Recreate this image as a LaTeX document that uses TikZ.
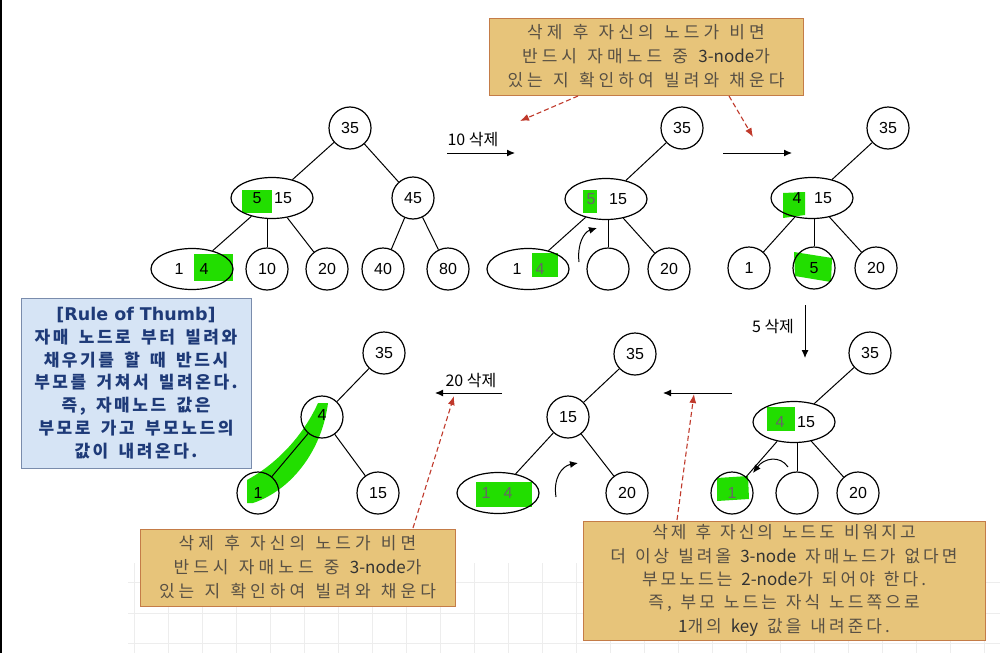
\documentclass[tikz,border=0pt]{standalone}
\usepackage{fontspec}
\setmainfont{Liberation Sans}
\newfontfamily\kr{Noto Sans CJK KR}
\newfontfamily\krs{Noto Sans CJK KR}[LetterSpace=24,WordSpace=1.3]
\newfontfamily\krt{Noto Sans CJK KR}[LetterSpace=18,WordSpace=1.3]
\newfontfamily\krb{Noto Sans CJK KR}[LetterSpace=15,WordSpace=1.6]
\newfontfamily\titlefont{DejaVu Sans}
\newcommand{\latw}[1]{{\kr\textcolor{black!80}{#1}}}
\usetikzlibrary{shapes.geometric,arrows.meta}
\definecolor{hl}{RGB}{34,222,0}
\definecolor{cofill}{RGB}{231,196,122}
\definecolor{coborder}{RGB}{196,124,72}
\definecolor{cotext}{RGB}{88,80,68}
\definecolor{rbfill}{RGB}{214,228,245}
\definecolor{rbborder}{RGB}{122,140,172}
\definecolor{rbtext}{RGB}{30,58,120}
\definecolor{redline}{RGB}{192,57,43}
\tikzset{
  nd/.style={circle,draw,line width=1.2pt,minimum size=42pt,inner sep=0pt,font=\fontsize{16}{16}\selectfont},
  ell/.style={ellipse,draw,line width=1.2pt,minimum width=82pt,minimum height=41pt,inner sep=0pt},
  num/.style={inner sep=0pt,font=\fontsize{16}{16}\selectfont},
  dnum/.style={inner sep=0pt,font=\fontsize{16}{16}\selectfont,text=black!60},
  edge/.style={line width=1pt},
  blkarr/.style={line width=1pt,-{Latex[length=8pt,width=7pt]}},
  curv/.style={line width=1pt,-{Latex[length=8pt,width=7pt]}},
  redarr/.style={redline,line width=1.1pt,dash pattern=on 5pt off 3pt,-{Latex[length=9pt,width=7pt]}},
  lab/.style={inner sep=0pt,font=\kr\fontsize{16}{16}\selectfont},
  callout/.style={draw=coborder,fill=cofill,line width=1pt,text=cotext,align=center,inner sep=0pt,font=\krs\fontsize{17}{24}\selectfont},
  rulebox/.style={draw=rbborder,fill=rbfill,line width=1pt,text=rbtext,align=center,inner sep=0pt,font=\krb\bfseries\fontsize{17}{22.8}\selectfont},
  gridl/.style={black!7,line width=0.6pt}
}
\begin{document}
\begin{tikzpicture}[x=1pt,y=-1pt]
\useasboundingbox (0,0) rectangle (1003,653);
\fill[white] (0,0) rectangle (1003,653);
\draw[black,line width=1.6pt] (0.8,0) -- (0.8,653);
% faint grid
\foreach \gx in {134,168,...,1000} {\draw[gridl] (\gx,563) -- (\gx,653);}
\foreach \gy in {582,613,643} {\draw[gridl] (128,\gy) -- (1000,\gy);}

% ---------------- Tree 1 ----------------
\fill[hl] (242,190) rectangle (272,213);
\fill[hl] (194,254) rectangle (233,281);
\node[nd] (a35) at (350,128) {35};
\node[ell] (a515) at (272,198) {};
\node[num] at (257,198) {5};
\node[num] at (283,198) {15};
\node[nd] (a45) at (413,198) {45};
\node[ell] (a14) at (192,269) {};
\node[num] at (179,269) {1};
\node[num] at (204,269) {4};
\node[nd] (a10) at (267,269) {10};
\node[nd] (a20) at (327,269) {20};
\node[nd] (a40) at (383,269) {40};
\node[nd] (a80) at (448,269) {80};
\draw[edge] (a35) -- (a515);
\draw[edge] (a35) -- (a45);
\draw[edge] (a515) -- (a14);
\draw[edge] (a515.south -| a10.north) -- (a10);
\draw[edge] (a515) -- (a20);
\draw[edge] (a45) -- (a40);
\draw[edge] (a45) -- (a80);

% arrow 10 delete
\coordinate (r1s) at (447,153);
\coordinate (r1e) at (515,153);
\draw[blkarr] (r1s) -- (r1e);
\node[lab] (l10) at (473,140) {10 삭제};

% ---------------- Tree 2 ----------------
\fill[hl] (583,190) rectangle (597,213);
\fill[hl] (532,253) rectangle (558,277);
\node[nd] (b35) at (682,128) {35};
\node[ell] (b515) at (606,199) {};
\node[dnum] at (591,199) {5};
\node[num] at (618,199) {15};
\node[ell] (b14) at (528,269) {};
\node[num] at (517,269) {1};
\node[dnum] at (540,269) {4};
\node[nd] (be) at (608,269) {};
\node[nd] (b20) at (669,269) {20};
\draw[edge] (b35) -- (b515);
\draw[edge] (b515) -- (b14);
\draw[edge] (b515.south -| be.north) -- (be);
\draw[edge] (b515) -- (b20);
\coordinate (c2s) at (579,262);
\coordinate (c2e) at (597,228);
\draw[curv] (c2s) .. controls (577,244) and (584,232) .. (c2e);

% arrow 2
\coordinate (r2s) at (723,153);
\coordinate (r2e) at (792,153);
\draw[blkarr] (r2s) -- (r2e);

% ---------------- Tree 3 ----------------
\fill[hl] (783,193) -- (805,192) -- (805,215) -- (783,218) -- cycle;
\fill[hl] (794,252) -- (832,258) -- (831,282) -- (795,276) -- cycle;
\node[nd] (c35) at (888,128) {35};
\node[ell] (c415) at (812,198) {};
\node[num] at (797,198) {4};
\node[num] at (823,198) {15};
\node[nd] (c1) at (749,268) {1};
\node[nd] (c5) at (814,268) {5};
\node[nd] (c20) at (876,268) {20};
\draw[edge] (c35) -- (c415);
\draw[edge] (c415) -- (c1);
\draw[edge] (c415.south -| c5.north) -- (c5);
\draw[edge] (c415) -- (c20);

% arrow 5 delete
\coordinate (r3s) at (805,305);
\coordinate (r3e) at (805,358);
\draw[blkarr] (r3s) -- (r3e);
\node[lab] (l5) at (773,327) {5 삭제};

% ---------------- Tree 4 ----------------
\fill[hl] (767,407) rectangle (795,431);
\fill[hl] (717,478) -- (748,476) -- (749,499) -- (717,501) -- cycle;
\node[nd] (d35) at (870,353) {35};
\node[ell] (d415) at (794,422) {};
\node[dnum] at (780,422) {4};
\node[num] at (806,422) {15};
\node[nd] (d1) at (732,493) {};
\node[dnum] at (732,493) {1};
\node[nd] (de) at (797,493) {};
\node[nd] (d20) at (858,493) {20};
\draw[edge] (d35) -- (d415);
\draw[edge] (d415) -- (d1);
\draw[edge] (d415.south -| de.north) -- (de);
\draw[edge] (d415) -- (d20);
\coordinate (c4s) at (788,467);
\coordinate (c4e) at (753,473);
\draw[curv] (c4s) .. controls (780,455) and (764,458) .. (c4e);

% arrow 4 -> 5
\coordinate (r4s) at (732,393);
\coordinate (r4e) at (663,393);
\draw[blkarr] (r4s) -- (r4e);

% ---------------- Tree 5 ----------------
\fill[hl] (476,482) rectangle (532,507);
\node[nd] (e35) at (635,354) {35};
\node[nd] (e15) at (568,417) {15};
\node[ell] (e14) at (498,493) {};
\node[dnum] at (486,493) {1};
\node[dnum] at (508,493) {4};
\node[nd] (e20) at (627,493) {20};
\draw[edge] (e35) -- (e15);
\draw[edge] (e15) -- (e14);
\draw[edge] (e15) -- (e20);
\coordinate (c5s) at (556,497);
\coordinate (c5e) at (578,463);
\draw[curv] (c5s) .. controls (553,478) and (562,466) .. (c5e);

% arrow 20 delete
\coordinate (r5s) at (502,393);
\coordinate (r5e) at (435,393);
\draw[blkarr] (r5s) -- (r5e);
\node[lab] (l20) at (471,381) {20 삭제};

% ---------------- Tree 6 ----------------
\fill[hl] (318,403) .. controls (305,432) and (280,462) .. (247,480) -- (247,503) -- (253,503)
   .. controls (292,490) and (322,450) .. (328,403) -- cycle;
\node[nd] (f35) at (384,353) {35};
\node[nd] (f4) at (322,417) {};
\node[num] at (322,415) {4};
\node[nd] (f1) at (258,493) {};
\node[num] at (258,493) {1};
\node[nd] (f15) at (378,493) {15};
\draw[edge] (f35) -- (f4);
\draw[edge] (f4) -- (f1);
\draw[edge] (f4) -- (f15);

% ---------------- Rule of thumb box ----------------
\node[rulebox,minimum width=230pt,minimum height=170pt] (rule) at (136,383)
 {{\titlefont\bfseries\fontsize{17.5}{22.8}\selectfont [Rule of Thumb]}\\자매 노드로 부터 빌려와\\채우기를 할 때 반드시\\부모를 거쳐서 빌려온다.\\즉, 자매노드 값은\\부모로 가고 부모노드의\\값이 내려온다.};

% ---------------- Callouts ----------------
\node[callout,minimum width=314pt,minimum height=77pt] (co1) at (646,56.5)
 {삭제 후 자신의 노드가 비면\\반드시 자매노드 중 \latw{3-node}가\\있는 지 확인하여 빌려와 채운다};
\node[callout,minimum width=315pt,minimum height=77pt] (co2) at (297.5,567.5)
 {삭제 후 자신의 노드가 비면\\반드시 자매노드 중 \latw{3-node}가\\있는 지 확인하여 빌려와 채운다};
\node[callout,minimum width=402pt,minimum height=119pt,font=\krt\fontsize{17}{23.3}\selectfont] (co3) at (784,580.5)
 {삭제 후 자신의 노드도 비워지고\\더 이상 빌려올 \latw{3-node} 자매노드가 없다면\\부모노드는 \latw{2-node}가 되어야 한다.\\즉, 부모 노드는 자식 노드쪽으로\\\latw{1}개의 \latw{key} 값을 내려준다.};

% dashed red arrows
\coordinate (d1s) at (578,96);
\coordinate (d1e) at (520,121);
\coordinate (d2s) at (729,96);
\coordinate (d2e) at (753,137);
\coordinate (d3s) at (413,528);
\coordinate (d3e) at (454,396);
\coordinate (d4s) at (677,520);
\coordinate (d4e) at (694,394);
\draw[redarr] (d1s) -- (d1e);
\draw[redarr] (d2s) -- (d2e);
\draw[redarr] (d3s) -- (d3e);
\draw[redarr] (d4s) -- (d4e);
\end{tikzpicture}
\end{document}
